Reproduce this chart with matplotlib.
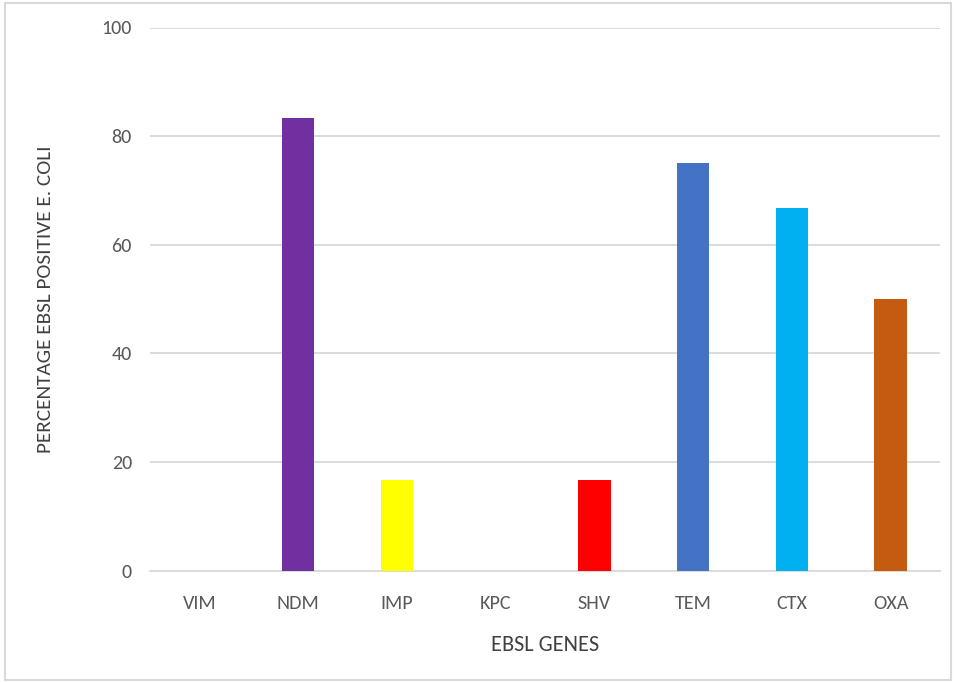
import matplotlib
matplotlib.use("Agg")
import matplotlib.pyplot as plt
from matplotlib.patches import Rectangle

genes = ["VIM", "NDM", "IMP", "KPC", "SHV", "TEM", "CTX", "OXA"]
percent = [0, 83.33, 16.67, 0, 16.67, 75.0, 66.67, 50.0]
bar_colors = ["#7030A0", "#7030A0", "#FFFF00", "#7030A0", "#FF0000",
              "#4472C4", "#00B0F0", "#C55A11"]
y_ticks = [0, 20, 40, 60, 80, 100]

plt.rcParams["font.family"] = ["Carlito", "DejaVu Sans"]

W, H = 956, 683
fig = plt.figure(figsize=(W / 100, H / 100), dpi=100)

# chart-area frame
fig.patches.append(Rectangle((5 / W, 3 / H), 946 / W, 677 / H, transform=fig.transFigure,
                             fill=False, edgecolor="#d9d9d9", linewidth=1.5))

left, right, top, bottom = 150, 940, 27.5, 570.5
ax = fig.add_axes([left / W, 1 - bottom / H, (right - left) / W, (bottom - top) / H])

x = range(len(genes))
ax.bar(x, percent, width=0.33, color=bar_colors, zorder=3)

ax.set_xlim(-0.5, len(genes) - 0.5)
ax.set_ylim(0, 100)
ax.set_yticks(y_ticks)
ax.set_xticks(list(x))
ax.set_xticklabels(genes)
ax.grid(axis="y", color="#d9d9d9", linewidth=1.3, zorder=0)
ax.set_axisbelow(True)
for s in ["top", "right", "left"]:
    ax.spines[s].set_visible(False)
ax.spines["bottom"].set_color("#d9d9d9")
ax.spines["bottom"].set_linewidth(1.3)
ax.tick_params(axis="both", length=0, colors="#595959", labelsize=14.5)
ax.tick_params(axis="x", pad=17.5)
ax.tick_params(axis="y", pad=13)

aw, ah = right - left, bottom - top
ax.set_xlabel("EBSL GENES", fontsize=16, color="#404040", va="center")
ax.xaxis.set_label_coords(0.5, -(645 - bottom) / ah)
ax.set_ylabel("PERCENTAGE EBSL POSITIVE E. COLI", fontsize=15.3, color="#404040", va="center")
ax.yaxis.set_label_coords(-(left - 45) / aw, 0.5)

fig.savefig("out.png", dpi=100)
